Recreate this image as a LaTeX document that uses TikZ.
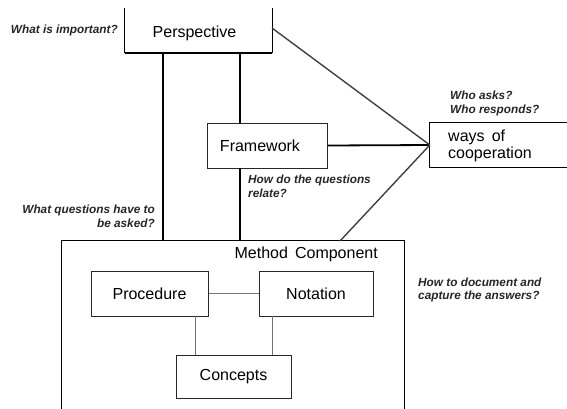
\documentclass[tikz,border=0pt]{standalone}
\usepackage{fontspec}
\setmainfont{Liberation Sans}
\begin{document}
\begin{tikzpicture}[x=1pt,y=-1pt,
  box/.style={draw=black!85,line width=1pt,inner sep=0pt,font=\fontsize{16}{18}\selectfont},
  nobox/.style={inner sep=0pt,font=\fontsize{16}{18}\selectfont},
  q/.style={inner sep=0pt,font=\fontsize{11.8}{13.5}\selectfont\bfseries\itshape,text=black!85},
  thickline/.style={line width=2.6pt,black},
  midline/.style={line width=1.8pt,black},
  diag/.style={line width=1.4pt,black!75},
  thin/.style={line width=0.9pt,black!55}]
\useasboundingbox (0,0) rectangle (567,408);
% Perspective (open top)
\node[nobox,minimum width=147pt,minimum height=45pt] (persp) at (198.5,30.5) {};
\node[nobox] (perspt) at (194.5,33) {Perspective};
\draw[line width=1pt] (persp.north west) -- (persp.south west);
\draw[line width=1pt] (persp.north east) -- (persp.south east);
\draw[line width=2pt] (persp.south west) -- (persp.south east);
% Framework
\node[box,minimum width=120pt,minimum height=45pt] (frame) at (267,145.5) {};
\node[nobox] (framet) at (260,146) {Framework};
% ways of cooperation (open right)
\node[nobox,minimum width=140pt,minimum height=44pt] (ways) at (500,145) {};
\draw[line width=1pt] (ways.north east) -- (ways.north west) -- (ways.south west) -- (ways.south east);
\node[nobox,anchor=west,align=left,font=\fontsize{16}{16.5}\selectfont] (wayst) at (448,146) {ways\, of\\cooperation};
% Method Component (open bottom)
\node[nobox,minimum width=342pt,minimum height=170pt] (meth) at (233,326) {};
\draw[line width=1.2pt] (meth.south west) -- (meth.north west) -- (meth.north east) -- (meth.south east);
\node[nobox,anchor=east] (metht) at (378,254) {Method\, Component};
% inner boxes
\node[box,minimum width=117pt,minimum height=45pt] (proc) at (149.5,293.5) {Procedure};
\node[box,minimum width=114pt,minimum height=45pt] (nota) at (316,293.5) {Notation};
\node[box,minimum width=115pt,minimum height=43pt] (conc) at (233.5,376.5) {Concepts};
% connectors
\coordinate (pa) at (163,53);
\coordinate (ma) at (163,241);
\coordinate (pb) at (240,53);
\coordinate (fb) at (240,123);
\coordinate (fc) at (240,168);
\coordinate (mb) at (240,241);
\draw[thickline] (pa) -- (ma);
\draw[thickline] (pb) -- (fb);
\draw[thickline] (fc) -- (mb);
\draw[midline] (frame.east) -- (ways.west);
\coordinate (pr) at (272,28);
\coordinate (mr) at (340,241);
\draw[diag] (pr) -- (ways.west);
\draw[diag] (mr) -- (ways.west);
\draw[thin] (proc.east) -- (nota.west);
\draw[thin] (195,316) -- (195,355);
\draw[thin] (272,316) -- (272,355);
% questions
\node[q,anchor=east] (q1) at (118,30) {What is important?};
\node[q,anchor=west,align=left] (q2) at (450,103.5) {Who asks?\\Who responds?};
\node[q,anchor=west,align=left] (q3) at (248,186.5) {How do the questions\\relate?};
\node[q,anchor=east,align=right] (q4) at (155,216.5) {What questions have to\\be asked?};
\node[q,anchor=west,align=left] (q5) at (418,290) {How to document and\\capture the answers?};
\end{tikzpicture}
\end{document}
